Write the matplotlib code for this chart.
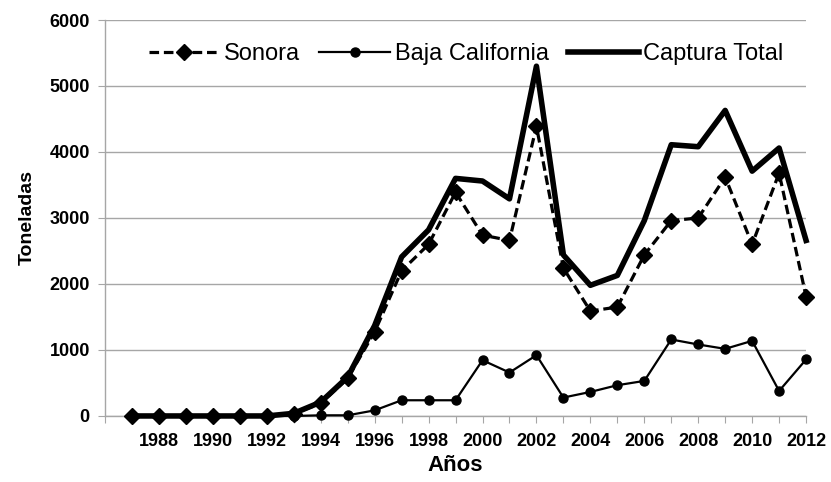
import numpy as np
import matplotlib.pyplot as plt

# Capturas anuales (toneladas)
years = list(range(1987, 2013))
sonora = [0, 0, 0, 0, 0, 0, 35, 190, 570, 1275, 2200, 2600, 3390, 2740, 2660,
          4390, 2240, 1590, 1650, 2440, 2960, 3000, 3620, 2600, 3680, 1810]
baja = [0, 0, 0, 0, 0, 0, 0, 10, 10, 85, 238, 238, 238, 845, 658,
        921, 279, 364, 466, 531, 1159, 1083, 1017, 1138, 379, 856]
total = [0, 0, 0, 0, 0, 0, 40, 210, 590, 1370, 2410, 2820, 3600, 3560, 3290,
         5300, 2440, 1980, 2130, 2960, 4110, 4080, 4630, 3710, 4060, 2660]

xtick_labels = [str(y) if (y % 2 == 0 and y > 1986) else '' for y in range(1986, 2013)]

plt.rcParams['font.family'] = ['Liberation Sans', 'DejaVu Sans']

fig = plt.figure(figsize=(8.31, 4.82), dpi=100)
ax = fig.add_axes([0.1264, 0.137, 0.8436, 0.8215])

ax.plot(years, baja, color='black', linewidth=1.6, marker='o', markersize=6.5,
        label='Baja California', clip_on=False, zorder=3)
ax.plot(years, sonora, color='black', linestyle=(0, (3, 1.5)), linewidth=2.3,
        marker='D', markersize=8, label='Sonora', clip_on=False, zorder=4)
ax.plot(years, total, color='black', linewidth=4, label='Captura Total',
        clip_on=False, zorder=5)

ax.set_xlim(1986, 2012)
ax.set_ylim(0, 6000)
ax.set_xticks(range(1986, 2013))
ax.set_xticklabels(xtick_labels)
ax.set_yticks(range(0, 6001, 1000))

ax.grid(axis='y', color='#a6a6a6', linewidth=1)
ax.set_axisbelow(True)
for s in ['top', 'right']:
    ax.spines[s].set_visible(False)
for s in ['left', 'bottom']:
    ax.spines[s].set_color('#a6a6a6')
    ax.spines[s].set_linewidth(1)

ax.tick_params(axis='y', length=5, color='#a6a6a6', pad=6, labelsize=13)
ax.tick_params(axis='x', length=5, color='#a6a6a6', pad=7, labelsize=13)
for lab in ax.get_xticklabels() + ax.get_yticklabels():
    lab.set_fontweight('bold')

ax.set_xlabel('Años', fontsize=16, fontweight='bold', labelpad=4)
ax.set_ylabel('Toneladas', fontsize=14, fontweight='bold', labelpad=10)

handles, labels = ax.get_legend_handles_labels()
order = [1, 0, 2]
ax.legend([handles[i] for i in order], [labels[i] for i in order],
          loc='upper center', bbox_to_anchor=(0.515, 0.995), ncol=3, frameon=False,
          fontsize=17, handlelength=3, handletextpad=0.2, columnspacing=0.8,
          numpoints=1)

fig.savefig('out.png', dpi=100)
